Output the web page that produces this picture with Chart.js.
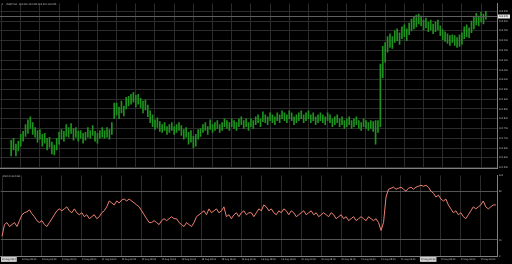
<!DOCTYPE html>
<html>
<head>
<meta charset="utf-8">
<script src="https://cdn.jsdelivr.net/npm/chart.js@4"></script>
<style>
  html, body { margin: 0; padding: 0; background: #000; }
  #wrap { position: relative; width: 512px; height: 264px; overflow: hidden; }
  canvas { position: absolute; left: 0; }
  #price { top: 0; }
  #rsi { top: 172px; }
</style>
</head>
<body>
<div id="wrap">
  <canvas id="price" width="512" height="172"></canvas>
  <canvas id="rsi" width="512" height="92"></canvas>
</div>
<script>
// --- datos (USDJPY, H1) ---
const highs = [
  102.690, 102.700, 102.670, 102.685, 102.720, 102.735, 102.770, 102.795, 102.810, 102.780,
  102.755, 102.740, 102.745, 102.720, 102.725, 102.700, 102.705, 102.680, 102.665, 102.700,
  102.730, 102.745, 102.735, 102.770, 102.755, 102.775, 102.750, 102.755, 102.735, 102.740,
  102.725, 102.730, 102.755, 102.740, 102.765, 102.735, 102.725, 102.740, 102.755, 102.740,
  102.755, 102.745, 102.780, 102.880, 102.880, 102.860, 102.890, 102.865, 102.910, 102.915,
  102.925, 102.935, 102.920, 102.925, 102.905, 102.890, 102.895, 102.870, 102.840, 102.820,
  102.795, 102.805, 102.785, 102.770, 102.780, 102.760, 102.770, 102.780, 102.760, 102.770,
  102.780, 102.765, 102.745, 102.755, 102.730, 102.740, 102.710, 102.720, 102.745, 102.750,
  102.770, 102.780, 102.760, 102.795, 102.770, 102.780, 102.790, 102.770, 102.780, 102.800,
  102.790, 102.780, 102.800, 102.790, 102.780, 102.800, 102.810, 102.790, 102.800, 102.780,
  102.800, 102.790, 102.810, 102.820, 102.800, 102.835, 102.820, 102.810, 102.830, 102.820,
  102.810, 102.830, 102.820, 102.840, 102.830, 102.820, 102.840, 102.830, 102.810, 102.820,
  102.830, 102.840, 102.820, 102.830, 102.840, 102.820, 102.830, 102.810, 102.820, 102.830,
  102.820, 102.810, 102.830, 102.820, 102.800, 102.810, 102.820, 102.800, 102.810, 102.790,
  102.800, 102.810, 102.790, 102.800, 102.810, 102.790, 102.780, 102.800, 102.790, 102.780,
  102.790, 102.785, 102.790, 102.790, 103.080, 103.170, 103.190, 103.220, 103.235, 103.220,
  103.250, 103.260, 103.240, 103.270, 103.280, 103.260, 103.290, 103.310, 103.320, 103.330,
  103.335, 103.325, 103.305, 103.315, 103.295, 103.305, 103.285, 103.295, 103.305, 103.275,
  103.255, 103.245, 103.235, 103.225, 103.230, 103.225, 103.215, 103.230, 103.240, 103.270,
  103.280, 103.265, 103.300, 103.320, 103.340, 103.325, 103.345, 103.335, 103.350
];
const lows = [
  102.610, 102.640, 102.610, 102.635, 102.660, 102.685, 102.710, 102.725, 102.750, 102.720,
  102.705, 102.680, 102.695, 102.660, 102.675, 102.640, 102.655, 102.620, 102.615, 102.640,
  102.670, 102.695, 102.685, 102.710, 102.705, 102.725, 102.690, 102.705, 102.685, 102.700,
  102.675, 102.690, 102.705, 102.700, 102.715, 102.685, 102.675, 102.700, 102.705, 102.700,
  102.705, 102.695, 102.720, 102.800, 102.820, 102.800, 102.830, 102.815, 102.850, 102.865,
  102.875, 102.885, 102.860, 102.875, 102.855, 102.830, 102.845, 102.810, 102.780, 102.760,
  102.745, 102.755, 102.735, 102.730, 102.740, 102.720, 102.730, 102.740, 102.720, 102.730,
  102.740, 102.715, 102.695, 102.705, 102.670, 102.680, 102.650, 102.660, 102.695, 102.710,
  102.730, 102.740, 102.720, 102.745, 102.730, 102.740, 102.750, 102.730, 102.740, 102.760,
  102.750, 102.740, 102.760, 102.750, 102.740, 102.760, 102.770, 102.750, 102.760, 102.740,
  102.760, 102.750, 102.770, 102.780, 102.760, 102.785, 102.780, 102.770, 102.790, 102.780,
  102.770, 102.790, 102.780, 102.800, 102.790, 102.780, 102.800, 102.790, 102.770, 102.780,
  102.790, 102.800, 102.780, 102.790, 102.800, 102.780, 102.790, 102.770, 102.780, 102.790,
  102.780, 102.770, 102.790, 102.780, 102.760, 102.770, 102.780, 102.760, 102.770, 102.750,
  102.760, 102.770, 102.750, 102.760, 102.770, 102.750, 102.740, 102.760, 102.750, 102.740,
  102.750, 102.735, 102.670, 102.730, 102.760, 103.010, 103.090, 103.140, 103.165, 103.160,
  103.190, 103.200, 103.180, 103.210, 103.220, 103.200, 103.230, 103.250, 103.260, 103.270,
  103.285, 103.275, 103.255, 103.265, 103.245, 103.255, 103.235, 103.245, 103.255, 103.225,
  103.205, 103.195, 103.185, 103.175, 103.190, 103.175, 103.165, 103.170, 103.180, 103.210,
  103.220, 103.215, 103.240, 103.260, 103.280, 103.275, 103.295, 103.285, 103.310
];
const rsi = [
  24.4, 39.0, 41.5, 36.6, 39.0, 41.5, 36.6, 43.9, 51.2, 53.7,
  54.9, 57.3, 52.4, 48.8, 43.9, 41.5, 43.9, 39.0, 36.6, 41.5,
  46.3, 51.2, 56.1, 58.5, 56.1, 58.5, 61.0, 56.1, 53.7, 58.5,
  53.7, 51.2, 53.7, 48.8, 51.2, 46.3, 48.8, 51.2, 46.3, 48.8,
  53.7, 56.1, 61.0, 68.3, 65.9, 63.4, 68.3, 65.9, 69.5, 70.7,
  68.3, 70.7, 68.3, 65.9, 63.4, 61.0, 56.1, 51.2, 46.3, 41.5,
  41.5, 43.9, 41.5, 39.0, 43.9, 46.3, 43.9, 46.3, 48.8, 46.3,
  46.3, 41.5, 39.0, 36.6, 41.5, 39.0, 36.6, 41.5, 48.8, 51.2,
  53.7, 56.1, 51.2, 58.5, 53.7, 56.1, 58.5, 53.7, 56.1, 61.0,
  48.8, 51.2, 46.3, 51.2, 53.7, 48.8, 53.7, 56.1, 51.2, 53.7,
  53.7, 48.8, 53.7, 58.5, 56.1, 63.4, 61.0, 56.1, 58.5, 53.7,
  51.2, 56.1, 53.7, 58.5, 56.1, 51.2, 56.1, 53.7, 48.8, 51.2,
  53.7, 56.1, 51.2, 53.7, 56.1, 51.2, 53.7, 48.8, 51.2, 53.7,
  51.2, 48.8, 53.7, 51.2, 46.3, 48.8, 51.2, 46.3, 48.8, 43.9,
  46.3, 48.8, 43.9, 46.3, 48.8, 46.3, 43.9, 48.8, 46.3, 43.9,
  46.3, 41.5, 31.7, 41.5, 73.2, 82.9, 84.1, 85.4, 82.9, 84.1,
  85.4, 82.9, 80.5, 84.1, 85.4, 82.9, 85.4, 86.6, 87.8, 86.6,
  87.8, 85.4, 80.5, 78.0, 73.2, 75.6, 70.7, 68.3, 70.7, 63.4,
  58.5, 53.7, 56.1, 51.2, 53.7, 48.8, 46.3, 51.2, 56.1, 61.0,
  58.5, 61.0, 63.4, 68.3, 61.0, 58.5, 61.0, 63.4, 63.4
];
// etiquetas de tiempo, una cada 8 barras
const timeLabels = [
  "13 Aug 2014", "13 Aug 08:00", "13 Aug 16:00", "14 Aug 00:00", "14 Aug 08:00",
  "14 Aug 16:00", "15 Aug 00:00", "15 Aug 08:00", "15 Aug 16:00", "18 Aug 00:00",
  "18 Aug 08:00", "18 Aug 16:00", "19 Aug 00:00", "19 Aug 08:00", "19 Aug 16:00",
  "20 Aug 00:00", "20 Aug 08:00", "20 Aug 16:00", "21 Aug 00:00", "21 Aug 08:00",
  "21 Aug 16:00", "22 Aug 00:00", "22 Aug 08:00", "22 Aug 16:00", "25 Aug 00:00"
];
const highlightedLabels = [0, 21];
const priceTicks = [
  102.55, 102.60, 102.65, 102.70, 102.75, 102.80, 102.85, 102.90, 102.95,
  103.00, 103.05, 103.10, 103.15, 103.20, 103.25, 103.30, 103.35
];
const rsiTicks = [0, 20, 80, 100];
const rsiLevels = [20, 80];
const lastPrice = 103.325;
const priceTitle = "USDJPY,H1  103.320 103.335 103.310 103.325";
const rsiTitle = "RSI(14) 63.4091";

const BAR_GREEN = "#1f931f";
const RSI_RED = "#ec8272";
const GRID = "#2c2c2c";
const AXIS = "#808080";
const TXT = "#c0c0c0";
const FONT = "'DejaVu Sans Condensed', 'DejaVu Sans', sans-serif";
const FS = 2.4;

Chart.defaults.font.family = FONT;

const barsData = highs.map((h, i) => ({ x: i, y: [lows[i], h] }));
const rsiData = rsi.map((v, i) => ({ x: i, y: v }));

const xCommon = {
    type: "linear",
    min: -0.5,
    max: highs.length - 0.5,
    afterBuildTicks: s => { s.ticks = timeLabels.map((_, k) => ({ value: k * 8 })); },
    grid: { color: GRID, drawTicks: false }
};

// linea del precio actual + titulo
const pricePlugin = {
    id: "priceExtras",
    afterDatasetsDraw(chart) {
        const { ctx, chartArea, scales } = chart;
        const y = Math.round(scales.y.getPixelForValue(lastPrice)) + 0.5;
        ctx.save();
        ctx.strokeStyle = "#606060";
        ctx.lineWidth = 1;
        ctx.beginPath();
        ctx.moveTo(chartArea.left, y);
        ctx.lineTo(chartArea.right, y);
        ctx.stroke();
        ctx.fillStyle = "#e8e8e8";
        ctx.fillRect(chartArea.right + 1, y - 2, 12, 4);
        ctx.fillStyle = "#000";
        ctx.font = FS + "px " + FONT;
        ctx.textBaseline = "middle";
        ctx.fillText(lastPrice.toFixed(3), chartArea.right + 2, y);
        ctx.fillStyle = TXT;
        ctx.fillText("\u25BE", 2, 4.5);
        ctx.fillText(priceTitle, 6, 4.5);
        ctx.restore();
    }
};

const rsiPlugin = {
    id: "rsiExtras",
    afterDatasetsDraw(chart) {
        const { ctx } = chart;
        ctx.save();
        ctx.fillStyle = TXT;
        ctx.font = FS + "px " + FONT;
        ctx.textBaseline = "middle";
        ctx.fillText(rsiTitle, 3, 4);
        ctx.restore();
    }
};

new Chart(document.getElementById("price"), {
    type: "bar",
    data: {
        datasets: [{
            data: barsData,
            backgroundColor: BAR_GREEN,
            barThickness: 1,
            borderWidth: 0
        }]
    },
    options: {
        responsive: false,
        animation: false,
        layout: { padding: { top: 2, left: 0, right: 0, bottom: 0 } },
        plugins: { legend: { display: false }, tooltip: { enabled: false } },
        scales: {
            x: {
                ...xCommon,
                ticks: { display: false },
                border: { display: true, color: AXIS },
                afterFit: s => { s.height = 1; }
            },
            y: {
                position: "right",
                min: 102.545,
                max: 103.39,
                afterBuildTicks: s => { s.ticks = priceTicks.map(v => ({ value: v })); },
                ticks: { color: TXT, font: { size: FS }, padding: 2, callback: v => v.toFixed(3) },
                grid: { color: GRID, drawTicks: false },
                border: { color: AXIS },
                afterFit: s => { s.width = 15; }
            }
        }
    },
    plugins: [pricePlugin]
});

new Chart(document.getElementById("rsi"), {
    type: "line",
    data: {
        datasets: [{
            data: rsiData,
            borderColor: RSI_RED,
            borderWidth: 1,
            pointRadius: 0,
            tension: 0
        }]
    },
    options: {
        responsive: false,
        animation: false,
        layout: { padding: { top: 2, left: 0, right: 0, bottom: 0 } },
        plugins: { legend: { display: false }, tooltip: { enabled: false } },
        scales: {
            x: {
                ...xCommon,
                border: { display: true, color: AXIS },
                ticks: {
                    color: ctx => highlightedLabels.includes(ctx.index) ? "#000" : TXT,
                    font: { size: FS },
                    padding: 2,
                    align: "start",
                    maxRotation: 0,
                    minRotation: 0,
                    autoSkip: false,
                    showLabelBackdrop: ctx => highlightedLabels.includes(ctx.index),
                    backdropColor: "#d0d0d0",
                    backdropPadding: 1,
                    callback: (v, i) => timeLabels[i]
                },
                afterFit: s => { s.height = 8; }
            },
            y: {
                position: "right",
                min: 0,
                max: 100,
                afterBuildTicks: s => { s.ticks = rsiTicks.map(v => ({ value: v })); },
                ticks: { color: TXT, font: { size: FS }, padding: 2 },
                grid: {
                    color: ctx => rsiLevels.includes(ctx.tick.value) ? "#555555" : "rgba(0,0,0,0)",
                    drawTicks: false
                },
                border: { color: AXIS },
                afterFit: s => { s.width = 15; }
            }
        }
    },
    plugins: [rsiPlugin]
});
</script>
</body>
</html>
